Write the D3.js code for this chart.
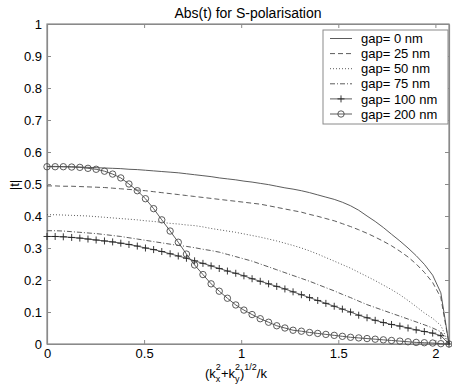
<!DOCTYPE html>
<html><head><meta charset="utf-8">
<script src="https://cdn.jsdelivr.net/npm/d3@7/dist/d3.min.js"></script>
<style>
body{margin:0;background:#fff;}
text{font-family:"Liberation Sans",Arial,sans-serif;fill:#000;}
</style></head>
<body><svg id="c" width="452" height="385"></svg>
<script>
const q = [0,0.042,0.084,0.127,0.169,0.211,0.253,0.296,0.338,0.380,0.422,0.465,0.507,0.549,0.591,0.634,0.676,0.718,0.760,0.803,0.845,0.887,0.929,0.972,1.014,1.056,1.098,1.141,1.183,1.225,1.267,1.310,1.352,1.394,1.436,1.479,1.521,1.563,1.605,1.648,1.690,1.732,1.774,1.817,1.859,1.901,1.943,1.986,2.028,2.070];
const gap0 = [0.555,0.555,0.554,0.554,0.553,0.552,0.551,0.550,0.549,0.548,0.546,0.545,0.543,0.541,0.539,0.537,0.535,0.532,0.529,0.526,0.523,0.519,0.516,0.513,0.509,0.506,0.502,0.498,0.493,0.488,0.484,0.479,0.473,0.466,0.459,0.452,0.443,0.432,0.418,0.400,0.383,0.364,0.343,0.322,0.300,0.276,0.249,0.215,0.160,0];
const gap25 = [0.494,0.494,0.493,0.493,0.492,0.491,0.490,0.489,0.487,0.485,0.483,0.481,0.479,0.476,0.473,0.470,0.467,0.464,0.461,0.458,0.455,0.452,0.449,0.446,0.443,0.440,0.437,0.432,0.427,0.422,0.417,0.412,0.405,0.399,0.392,0.385,0.376,0.367,0.357,0.346,0.334,0.321,0.307,0.290,0.272,0.250,0.224,0.192,0.145,0];
const gap50 = [0.404,0.404,0.403,0.402,0.401,0.400,0.398,0.396,0.394,0.392,0.390,0.388,0.385,0.383,0.380,0.377,0.375,0.372,0.370,0.366,0.361,0.357,0.353,0.349,0.344,0.339,0.334,0.328,0.322,0.315,0.308,0.300,0.291,0.281,0.270,0.259,0.248,0.237,0.224,0.211,0.198,0.184,0.170,0.154,0.136,0.117,0.097,0.080,0.058,0];
const gap75 = [0.354,0.354,0.353,0.351,0.349,0.347,0.345,0.342,0.339,0.336,0.332,0.328,0.324,0.320,0.316,0.312,0.308,0.305,0.301,0.296,0.292,0.287,0.280,0.273,0.266,0.259,0.250,0.241,0.232,0.223,0.214,0.205,0.196,0.186,0.176,0.166,0.155,0.145,0.134,0.123,0.114,0.105,0.096,0.087,0.078,0.069,0.060,0.050,0.038,0];
const gap100 = [0.336,0.336,0.335,0.333,0.331,0.328,0.325,0.322,0.319,0.315,0.311,0.306,0.300,0.295,0.289,0.282,0.275,0.268,0.260,0.252,0.244,0.236,0.228,0.221,0.213,0.204,0.196,0.188,0.180,0.172,0.163,0.154,0.145,0.136,0.127,0.118,0.109,0.100,0.090,0.082,0.074,0.067,0.061,0.056,0.050,0.044,0.039,0.034,0.026,0];
const gap200 = [0.554,0.554,0.554,0.553,0.552,0.549,0.546,0.540,0.531,0.519,0.500,0.479,0.454,0.423,0.388,0.353,0.318,0.281,0.247,0.217,0.188,0.165,0.143,0.122,0.106,0.092,0.079,0.068,0.057,0.050,0.043,0.040,0.036,0.033,0.030,0.027,0.024,0.021,0.019,0.017,0.015,0.013,0.011,0.009,0.007,0.005,0.004,0.003,0.001,0];
const legendLabels = ["gap= 0 nm","gap= 25 nm","gap= 50 nm","gap= 75 nm","gap= 100 nm","gap= 200 nm"];
const xTicks = [0,0.5,1,1.5,2];
const yTicks = [0,0.1,0.2,0.3,0.4,0.5,0.6,0.7,0.8,0.9,1];
const titleText = "Abs(t) for S-polarisation";
const yLabel = "|t|";

const series = [
  {v:gap0, dash:null, marker:null},
  {v:gap25, dash:"5,3", marker:null},
  {v:gap50, dash:"1,2", marker:null},
  {v:gap75, dash:"5,2,1,2", marker:null},
  {v:gap100, dash:null, marker:"plus"},
  {v:gap200, dash:null, marker:"circle"}
];

const svg = d3.select("#c");
const L=47, R=449, T=24, B=344;
const x = d3.scaleLinear().domain([0,2.07]).range([L,R]);
const y = d3.scaleLinear().domain([0,1]).range([B,T]);
const lineCol = "#4a4a4a", axisCol = "#8a8a8a";

svg.append("rect").attr("x",L).attr("y",T).attr("width",R-L).attr("height",B-T)
  .attr("fill","#fff").attr("stroke",axisCol).attr("stroke-width",1.2);

const fmt = d => d===0?"0":String(d);
const gx = svg.append("g").attr("transform",`translate(0,${B})`)
  .call(d3.axisBottom(x).tickValues(xTicks).tickSizeInner(-4).tickSizeOuter(0).tickPadding(5).tickFormat(fmt));
const gxt = svg.append("g").attr("transform",`translate(0,${T})`)
  .call(d3.axisTop(x).tickValues(xTicks).tickSizeInner(-4).tickSizeOuter(0).tickFormat(""));
const gy = svg.append("g").attr("transform",`translate(${L},0)`)
  .call(d3.axisLeft(y).tickValues(yTicks).tickSizeInner(-4).tickSizeOuter(0).tickPadding(5).tickFormat(fmt));
const gyr = svg.append("g").attr("transform",`translate(${R},0)`)
  .call(d3.axisRight(y).tickValues(yTicks).tickSizeInner(-4).tickSizeOuter(0).tickFormat(""));
[gx,gxt,gy,gyr].forEach(g=>{
  g.select(".domain").attr("stroke",axisCol).attr("stroke-width",1.2);
  g.selectAll(".tick line").attr("stroke",axisCol);
  g.selectAll("text").attr("font-size",13).attr("font-family","Liberation Sans, Arial, sans-serif").attr("fill","#000");
});
gx.selectAll("text").attr("dy","0.71em");

const line = d3.line().x((d,i)=>x(q[i])).y(d=>y(d));
series.forEach(s=>{
  svg.append("path").attr("d",line(s.v)).attr("fill","none").attr("stroke",lineCol)
    .attr("stroke-width",0.9).attr("stroke-dasharray",s.dash);
  if(s.marker==="circle"){
    svg.append("g").selectAll("circle").data(s.v).join("circle")
      .attr("cx",(d,i)=>x(q[i])).attr("cy",d=>y(d)).attr("r",3.2)
      .attr("fill","none").attr("stroke",lineCol).attr("stroke-width",0.9);
  } else if(s.marker==="plus"){
    svg.append("g").selectAll("path").data(s.v).join("path")
      .attr("d",(d,i)=>{const cx=x(q[i]),cy=y(d);return `M${cx-3.5},${cy}H${cx+3.5}M${cx},${cy-3.5}V${cy+3.5}`;})
      .attr("stroke","#222").attr("stroke-width",0.9);
  }
});

svg.append("text").attr("x",(L+R)/2).attr("y",18).attr("text-anchor","middle")
  .attr("font-size",14).text(titleText);

svg.append("text").attr("transform",`translate(19,185) rotate(-90)`).attr("text-anchor","middle")
  .attr("font-size",13).text(yLabel);

(function(){
  const g = svg.append("g");
  const base = 378; let cx = 0;
  function add(t,size,dy){ const el=g.append("text").attr("x",cx).attr("y",base+dy).attr("font-size",size).text(t); return el.node().getComputedTextLength(); }
  cx += add("(k",13,0);
  let w1 = add("2",9,-8.5); let w2 = add("x",9,3.8); cx += Math.max(w1,w2);
  cx += add("+k",13,0);
  w1 = add("2",9,-8.5); w2 = add("y",9,3.8); cx += Math.max(w1,w2);
  cx += add(")",13,0);
  cx += add("1/2",9,-8);
  cx += add("/k",13,0);
  g.attr("transform",`translate(${236-cx/2},0)`);
})();

const lg = svg.append("g");
lg.append("rect").attr("x",323).attr("y",30).attr("width",125).attr("height",94)
  .attr("fill","#fff").attr("stroke",axisCol).attr("stroke-width",1);
legendLabels.forEach((lab,i)=>{
  const yy = 38.5 + i*15.1, s = series[i];
  lg.append("line").attr("x1",330).attr("x2",352).attr("y1",yy).attr("y2",yy)
    .attr("stroke",lineCol).attr("stroke-width",0.9).attr("stroke-dasharray",s.dash);
  if(s.marker==="circle") lg.append("circle").attr("cx",341).attr("cy",yy).attr("r",3.2).attr("fill","none").attr("stroke",lineCol).attr("stroke-width",0.9);
  if(s.marker==="plus") lg.append("path").attr("d",`M337.5,${yy}H344.5M341,${yy-3.5}V${yy+3.5}`).attr("stroke","#222").attr("stroke-width",0.9);
  lg.append("text").attr("x",361).attr("y",yy+4.6).attr("font-size",13).text(lab);
});
</script></body></html>
